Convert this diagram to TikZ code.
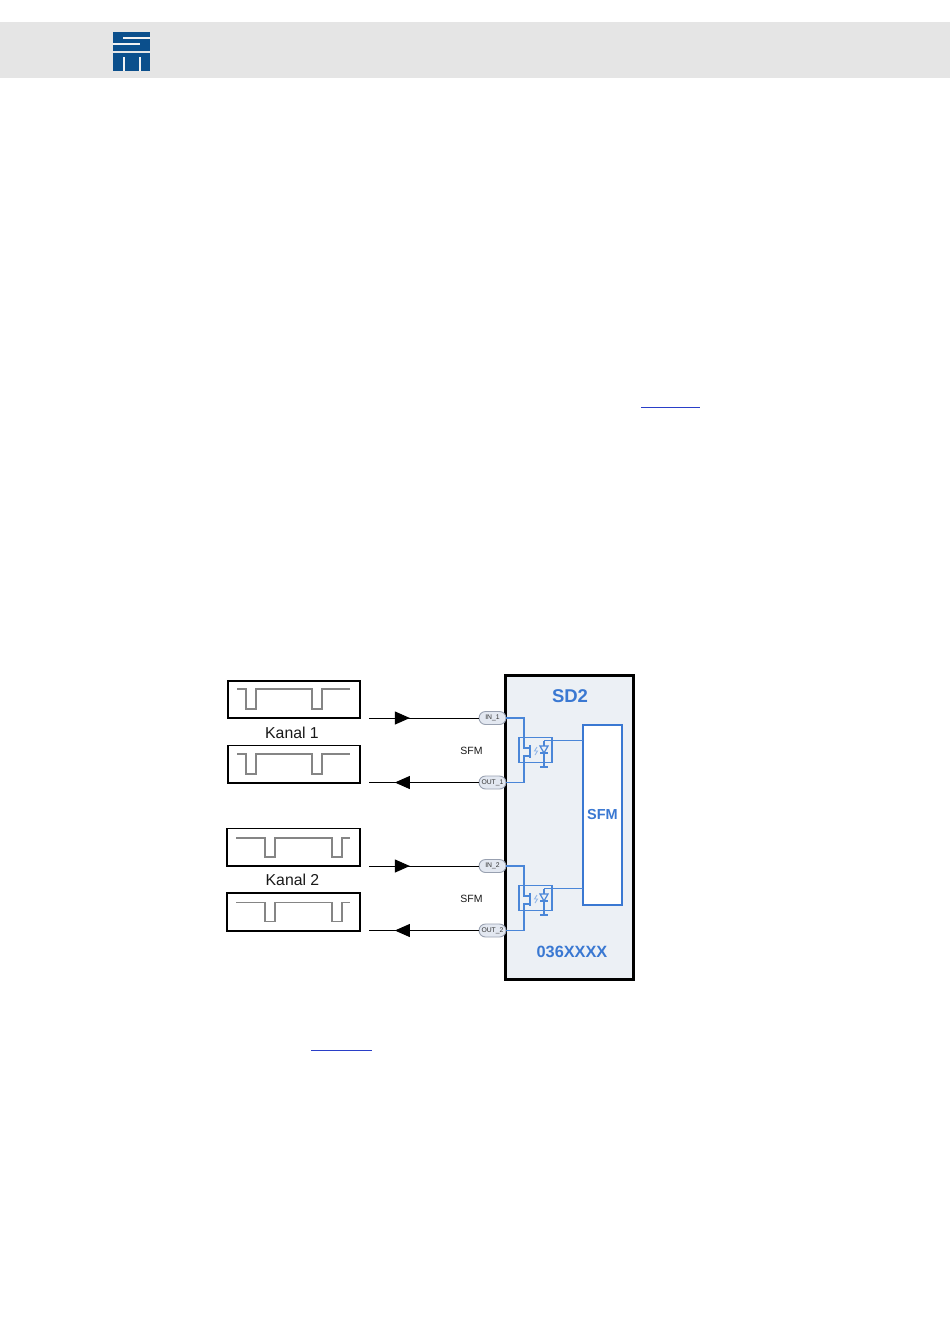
\documentclass[tikz,border=0pt]{standalone}
\usepackage{fontspec}
\setmainfont{Liberation Sans}
\usetikzlibrary{arrows.meta,decorations.markings,shapes.misc}
\definecolor{sdblue}{HTML}{3A78D2}
\definecolor{sdline}{HTML}{4A86D8}
\definecolor{sdfill}{HTML}{ECF0F5}
\definecolor{logoblue}{HTML}{0B4F8C}
\definecolor{band}{HTML}{E5E5E5}
\definecolor{wave}{HTML}{858585}
\definecolor{linkblue}{HTML}{2A3FC8}
\definecolor{pillfill}{HTML}{E3E8F1}
\definecolor{pillline}{HTML}{98A0B0}
\tikzset{
  x=1pt,y=-1pt,
  sigbox/.style={draw=black,line width=1.6pt,fill=white},
  wavepath/.style={draw=wave,line width=1.4pt},
  pill/.style={rounded rectangle,draw=pillline,fill=pillfill,line width=.9pt,minimum width=27pt,minimum height=13pt,inner sep=0pt,font=\fontsize{6.8}{7}\selectfont,text=black!80},
  blueline/.style={draw=sdline,line width=1.2pt},
  bluetext/.style={text=sdblue,font=\bfseries\fontsize{#1}{#1}\selectfont,inner sep=0pt},
  kanal/.style={font=\fontsize{15.8}{16}\selectfont,inner sep=0pt,text=black!90},
  sfmlabel/.style={font=\fontsize{10.5}{11}\selectfont,inner sep=0pt,text=black!90},
  sigline/.style={draw=black,line width=1pt},
  headfwd/.style={postaction={decorate},decoration={markings,mark=at position .373 with {\arrow{Triangle[length=15pt,width=13pt]}}}},
  headback/.style={postaction={decorate},decoration={markings,mark=at position .764 with {\arrow{Triangle[length=15pt,width=13pt]}}}},
  link/.style={draw=linkblue,line width=1.1pt},
}
\newcommand{\waveA}[1]{%
  \draw[wavepath] (237,#1) -- (246,#1) -- (246,#1+20) -- (256,#1+20) -- (256,#1) -- (312,#1) -- (312,#1+20) -- (322,#1+20) -- (322,#1) -- (350,#1);}
\newcommand{\waveB}[1]{%
  \draw[wavepath] (236,#1) -- (265,#1) -- (265,#1+19) -- (275,#1+19) -- (275,#1) -- (332,#1) -- (332,#1+19) -- (342,#1+19) -- (342,#1) -- (350,#1);}
% #1 = y offset of the switch cell
\newcommand{\switchcell}[1]{%
  \begin{scope}[yshift=-#1 pt]
  \draw[blueline] (519,737.5) rectangle (552,762.5);
  % transistor gate
  \draw[blueline] (530,745) -- (530,758);
  % light
  \draw[draw=sdline!60,line width=.9pt] (537,747) -- (534.5,751) -- (537.5,751) -- (535,755);
  % diode
  \draw[blueline] (544,740.5) -- (544,767);
  \draw[blueline,fill=sdfill] (540,746) -- (548,746) -- (544,753) -- cycle;
  \draw[blueline] (540,753) -- (548,753);
  \draw[blueline] (540,767) -- (548,767);
  \end{scope}}
\begin{document}
\begin{tikzpicture}
\useasboundingbox (0,0) rectangle (950,1344);
\fill[white] (0,0) rectangle (950,1344);
% header band and logo
\fill[band] (0,22) rectangle (950,78);
\fill[logoblue] (113,32) rectangle (150,50.5);
\fill[band!50!white] (123,36.8) rectangle (150,39.2);
\fill[band!50!white] (113,42.8) rectangle (140,45.2);
\fill[logoblue] (113,52.5) rectangle (150,71);
\fill[band!50!white] (122.8,57) rectangle (125.2,71);
\fill[band!50!white] (138.8,57) rectangle (141.2,71);
% link underlines
\draw[link] (641,407.5) -- (700,407.5);
\draw[link] (311,1050.5) -- (372,1050.5);
% signal boxes
\draw[sigbox] (228,681) rectangle (360,718);
\waveA{689}
\node[kanal] (k1) at (292,732.5) {Kanal 1};
\draw[sigbox] (228,745.5) rectangle (360,783);
\waveA{754}
\draw[sigbox] (227,828.5) rectangle (360,866);
\waveB{838}
\node[kanal] (k2) at (292.5,879.5) {Kanal 2};
\draw[sigbox] (227,893) rectangle (360,931);
\waveB{902.5}
% main box
\draw[draw=black,line width=3pt,fill=sdfill] (505.5,675) rectangle (633,979);
\node[bluetext=18.5] (sd2) at (570,696.5) {SD2};
\node[bluetext=16.3] (part) at (572,952) {036XXXX};
\node[draw=sdblue,line width=1.6pt,fill=white,minimum width=39pt,minimum height=180pt,inner sep=0pt,outer sep=0pt] (sfm) at (602.5,815) {};
\node[bluetext=14.5] (sfmt) at (602.5,814) {SFM};
% pills
\node[pill] (in1) at (492.5,718) {IN\_1};
\node[pill] (out1) at (492.5,782.5) {OUT\_1};
\node[pill] (in2) at (492.5,866) {IN\_2};
\node[pill] (out2) at (492.5,930.5) {OUT\_2};
\node[sfmlabel] (s1) at (471.5,750.5) {SFM};
\node[sfmlabel] (s2) at (471.5,898.5) {SFM};
% free ends
\coordinate (a1) at (369,718);
\coordinate (a2) at (369,782.5);
\coordinate (a3) at (369,866);
\coordinate (a4) at (369,930.5);
% signal connectors
\draw[sigline,headfwd] (a1) -- (in1.west);
\draw[sigline,headback] (out1.west) -- (a2);
\draw[sigline,headfwd] (a3) -- (in2.west);
\draw[sigline,headback] (out2.west) -- (a4);
% switch cells
\switchcell{0}
\switchcell{148}
% blue connectors
\draw[blueline] (in1.east) -| (524,748) -- (530,748);
\draw[blueline] (out1.east) -| (524,756) -- (530,756);
\draw[blueline] (in2.east) -| (524,896) -- (530,896);
\draw[blueline] (out2.east) -| (524,904) -- (530,904);
\draw[blueline,line width=1.5pt] (544,740.5) -- (sfm.west |- 544,740.5);
\draw[blueline,line width=1.5pt] (544,888.5) -- (sfm.west |- 544,888.5);
\end{tikzpicture}
\end{document}
